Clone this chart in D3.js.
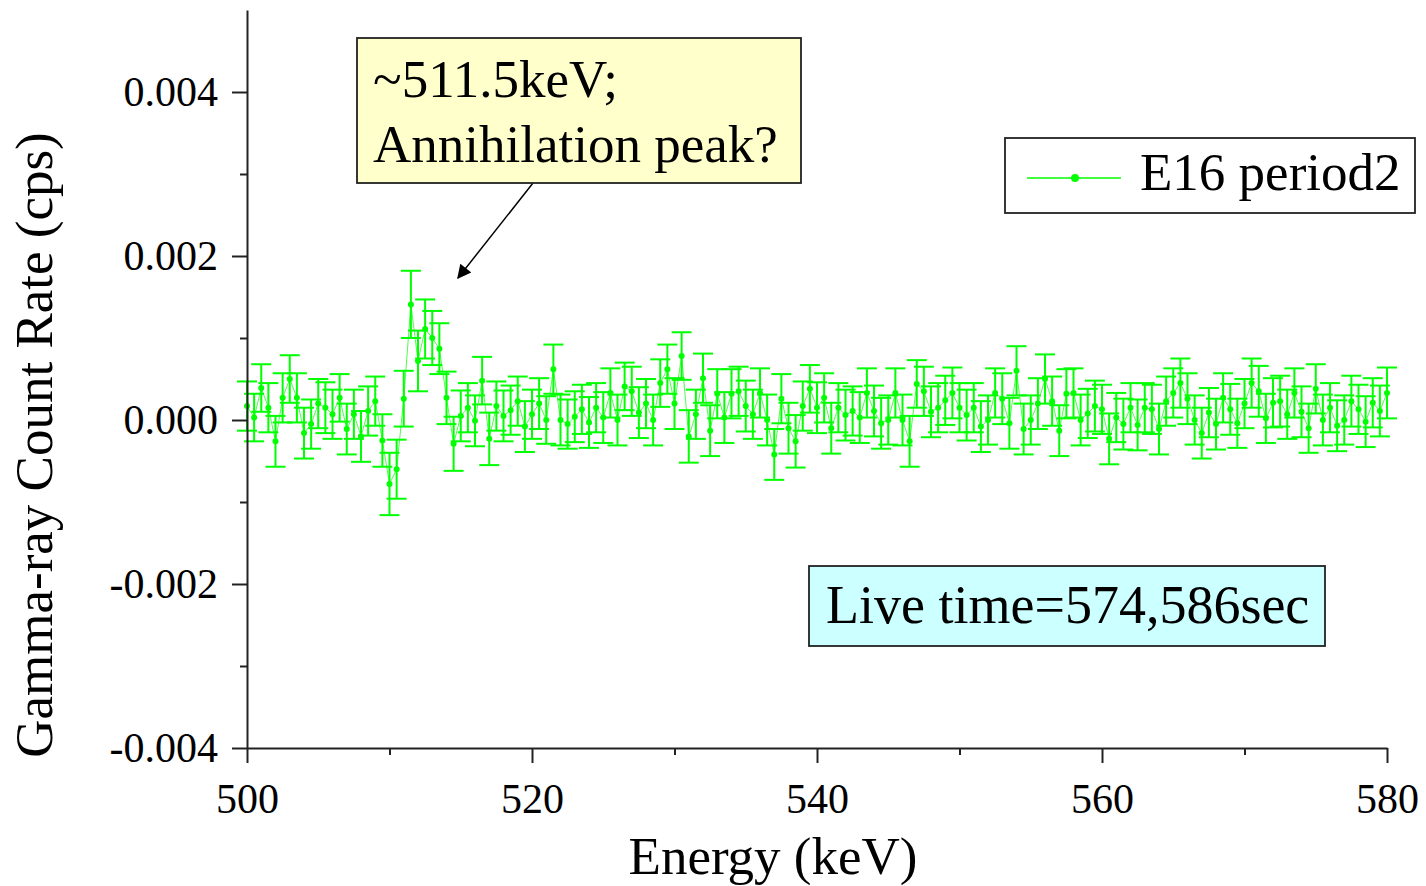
<!DOCTYPE html>
<html>
<head>
<meta charset="utf-8">
<script src="https://cdn.jsdelivr.net/npm/d3@7"></script>
<style>
  body { margin: 0; background: #fff; }
  svg { display: block; }
</style>
</head>
<body>
<div id="chart"></div>
<script>
// spectrum bins: 0.5 keV wide, starting at 500 keV
const binStart = 500;
const binWidth = 0.5;

// count rate (cps), one per bin
const rate = [
  0.00017, 0.00003, 0.00039, 0.00015, -0.00026, 0.00027, 0.00050, 0.00027, -0.00016, -0.00005,
  0.00020, 0.00015, 0.00007, 0.00027, -0.00011, 0.00007, -0.00020, 0.00011, 0.00023, -0.00025,
  -0.00078, -0.00060, 0.00026, 0.00141, 0.00072, 0.00111, 0.00100, 0.00087, 0.00027, -0.00029,
  0.00005, 0.00015, -0.00001, 0.00048, -0.00023, 0.00017, 0.00005, 0.00012, 0.00023, -0.00008,
  0.00007, 0.00020, 0.00000, 0.00062, 0.00000, -0.00005, 0.00004, 0.00013, -0.00003, 0.00015,
  0.00003, 0.00033, 0.00000, 0.00041, 0.00035, 0.00009, 0.00020, 0.00000, 0.00045, 0.00062,
  0.00020, 0.00078, -0.00020, 0.00007, 0.00051, -0.00013, 0.00032, 0.00003, 0.00032, 0.00035,
  0.00017, 0.00007, 0.00033, 0.00000, -0.00042, 0.00026, -0.00010, -0.00026, 0.00017, 0.00038,
  0.00015, 0.00027, -0.00010, 0.00015, 0.00006, 0.00011, 0.00003, 0.00033, 0.00011, -0.00004,
  0.00000, 0.00033, 0.00000, -0.00026, 0.00044, 0.00035, 0.00010, 0.00015, 0.00024, 0.00033,
  0.00015, 0.00006, 0.00015, -0.00008, 0.00000, 0.00033, 0.00026, -0.00004, 0.00060, -0.00011,
  0.00000, 0.00020, 0.00050, 0.00023, -0.00013, 0.00032, 0.00033, 0.00000, 0.00008, 0.00017,
  0.00013, -0.00023, 0.00003, -0.00005, 0.00015, -0.00006, 0.00015, 0.00013, -0.00011, 0.00023,
  0.00033, 0.00045, 0.00026, 0.00000, -0.00016, 0.00009, -0.00005, 0.00027, 0.00013, -0.00004,
  0.00020, 0.00045, 0.00035, 0.00002, 0.00021, 0.00023, 0.00007, 0.00033, 0.00010, -0.00010,
  0.00038, 0.00000, 0.00015, -0.00007, 0.00000, 0.00023, 0.00013, -0.00002, 0.00021, 0.00011,
  0.00033
];

// 1 sigma error of each bin (cps)
const rateErr = [
  0.00030, 0.00029, 0.00029, 0.00030, 0.00031, 0.00030, 0.00029, 0.00030, 0.00031, 0.00030,
  0.00030, 0.00031, 0.00030, 0.00029, 0.00031, 0.00030, 0.00031, 0.00030, 0.00030, 0.00032,
  0.00038, 0.00036, 0.00034, 0.00041, 0.00037, 0.00036, 0.00033, 0.00031, 0.00032, 0.00033,
  0.00031, 0.00030, 0.00031, 0.00029, 0.00032, 0.00030, 0.00031, 0.00030, 0.00030, 0.00031,
  0.00030, 0.00031, 0.00029, 0.00030, 0.00031, 0.00030, 0.00031, 0.00030, 0.00031, 0.00030,
  0.00031, 0.00030, 0.00031, 0.00029, 0.00030, 0.00031, 0.00030, 0.00031, 0.00029, 0.00030,
  0.00031, 0.00029, 0.00032, 0.00030, 0.00030, 0.00031, 0.00030, 0.00031, 0.00030, 0.00030,
  0.00031, 0.00030, 0.00030, 0.00031, 0.00031, 0.00030, 0.00031, 0.00032, 0.00030, 0.00029,
  0.00031, 0.00030, 0.00031, 0.00030, 0.00031, 0.00030, 0.00031, 0.00030, 0.00031, 0.00031,
  0.00030, 0.00030, 0.00031, 0.00031, 0.00029, 0.00030, 0.00031, 0.00030, 0.00030, 0.00031,
  0.00030, 0.00031, 0.00030, 0.00031, 0.00030, 0.00030, 0.00031, 0.00031, 0.00030, 0.00031,
  0.00030, 0.00031, 0.00030, 0.00030, 0.00031, 0.00030, 0.00030, 0.00031, 0.00030, 0.00031,
  0.00030, 0.00031, 0.00030, 0.00031, 0.00030, 0.00031, 0.00030, 0.00030, 0.00031, 0.00030,
  0.00030, 0.00030, 0.00031, 0.00030, 0.00031, 0.00030, 0.00031, 0.00030, 0.00031, 0.00030,
  0.00030, 0.00030, 0.00031, 0.00030, 0.00030, 0.00031, 0.00030, 0.00030, 0.00031, 0.00030,
  0.00030, 0.00031, 0.00030, 0.00031, 0.00030, 0.00031, 0.00030, 0.00031, 0.00030, 0.00031,
  0.00031
];

const xMajorTicks = [500, 520, 540, 560, 580];
const xMinorTicks = [510, 530, 550, 570];
const yMajorTicks = [-0.004, -0.002, 0, 0.002, 0.004];
const yMinorTicks = [-0.003, -0.001, 0.001, 0.003];

const seriesName = "E16 period2";
const calloutLines = ["~511.5keV;", "Annihilation peak?"];
const liveTimeText = "Live time=574,586sec";

const width = 1426;
const height = 886;
const green = "#00ff00";
const font = "'Liberation Serif', 'Times New Roman', serif";

const data = rate.map((v, i) => ({
    energy: binStart + i * binWidth,
    value: v,
    err: rateErr[i]
}));

const svg = d3.select("#chart")
              .append("svg")
              .attr("width", width)
              .attr("height", height)
              .style("font-family", font);

const x = d3.scaleLinear()
            .domain([500, 580])
            .range([247, 1387]);

const y = d3.scaleLinear()
            .domain([-0.004, 0.005])
            .range([748, 10]);

// error bars first, line and dots on top
const bars = svg.append("g")
                .attr("stroke", green)
                .attr("stroke-width", 2)
                .attr("fill", "none");

data.forEach(d => {
    const cx = x(d.energy);
    const top = y(d.value + d.err);
    const bot = y(d.value - d.err);
    bars.append("line").attr("x1", cx).attr("x2", cx).attr("y1", top).attr("y2", bot);
    bars.append("line").attr("x1", cx - 10).attr("x2", cx + 10).attr("y1", top).attr("y2", top);
    bars.append("line").attr("x1", cx - 10).attr("x2", cx + 10).attr("y1", bot).attr("y2", bot);
});

const line = d3.line()
               .x(d => x(d.energy))
               .y(d => y(d.value));

svg.append("path")
   .datum(data)
   .attr("d", line)
   .attr("fill", "none")
   .attr("stroke", green)
   .attr("stroke-opacity", 0.7)
   .attr("stroke-width", 1);

svg.append("g")
   .selectAll("circle")
   .data(data)
   .join("circle")
   .attr("cx", d => x(d.energy))
   .attr("cy", d => y(d.value))
   .attr("r", 3)
   .attr("fill", green);

// axes
const axisColor = "#222";
const fmt = d3.format(".3f");

const yAxis = svg.append("g")
                 .attr("transform", "translate(247,0)")
                 .call(d3.axisLeft(y)
                         .tickValues(yMajorTicks)
                         .tickSize(15)
                         .tickSizeOuter(0)
                         .tickPadding(14)
                         .tickFormat(d => fmt(d).replace("\u2212", "-")));

yAxis.selectAll("text")
     .style("font-size", "42px")
     .style("font-family", font)
     .attr("fill", "#000");

svg.append("g")
   .attr("transform", "translate(247,0)")
   .call(d3.axisLeft(y).tickValues(yMinorTicks).tickSize(7).tickFormat(""))
   .call(g => g.select(".domain").remove());

const xAxis = svg.append("g")
                 .attr("transform", "translate(0,748)")
                 .call(d3.axisBottom(x)
                         .tickValues(xMajorTicks)
                         .tickSize(15)
                         .tickSizeOuter(0)
                         .tickPadding(20));

xAxis.selectAll("text")
     .style("font-size", "42px")
     .style("font-family", font)
     .attr("fill", "#000");

svg.append("g")
   .attr("transform", "translate(0,748)")
   .call(d3.axisBottom(x).tickValues(xMinorTicks).tickSize(7).tickFormat(""))
   .call(g => g.select(".domain").remove());

svg.selectAll(".domain, .tick line")
   .attr("stroke", axisColor)
   .attr("stroke-width", 2);

// axis titles
svg.append("text")
   .attr("x", 773)
   .attr("y", 874)
   .attr("text-anchor", "middle")
   .style("font-size", "53px")
   .text("Energy (keV)");

svg.append("text")
   .attr("transform", "translate(52,445) rotate(-90)")
   .attr("text-anchor", "middle")
   .style("font-size", "53px")
   .text("Gamma-ray Count Rate (cps)");

// callout box with arrow
svg.append("defs")
   .append("marker")
   .attr("id", "arrowhead")
   .attr("viewBox", "0 0 10 10")
   .attr("refX", 9)
   .attr("refY", 5)
   .attr("markerWidth", 20)
   .attr("markerHeight", 14)
   .attr("markerUnits", "userSpaceOnUse")
   .attr("orient", "auto")
   .append("path")
   .attr("d", "M0,0 L10,5 L0,10 Z")
   .attr("fill", "#000");

svg.append("line")
   .attr("x1", 533)
   .attr("y1", 183)
   .attr("x2", 458)
   .attr("y2", 278)
   .attr("stroke", "#000")
   .attr("stroke-width", 1.5)
   .attr("marker-end", "url(#arrowhead)");

svg.append("rect")
   .attr("x", 357)
   .attr("y", 38)
   .attr("width", 444)
   .attr("height", 145)
   .attr("fill", "#ffffcc")
   .attr("stroke", "#222")
   .attr("stroke-width", 1.8);

calloutLines.forEach((t, i) => {
    svg.append("text")
       .attr("x", 373)
       .attr("y", 97 + i * 65)
       .style("font-size", "53px")
       .text(t);
});

// legend
svg.append("rect")
   .attr("x", 1005)
   .attr("y", 138)
   .attr("width", 410)
   .attr("height", 75)
   .attr("fill", "#fff")
   .attr("stroke", "#222")
   .attr("stroke-width", 1.8);

svg.append("line")
   .attr("x1", 1027)
   .attr("x2", 1121)
   .attr("y1", 178)
   .attr("y2", 178)
   .attr("stroke", green)
   .attr("stroke-width", 1.5);

svg.append("circle")
   .attr("cx", 1075)
   .attr("cy", 178)
   .attr("r", 4)
   .attr("fill", green);

svg.append("text")
   .attr("x", 1140)
   .attr("y", 190)
   .style("font-size", "53px")
   .text(seriesName);

// live time note
svg.append("rect")
   .attr("x", 809)
   .attr("y", 566)
   .attr("width", 516)
   .attr("height", 80)
   .attr("fill", "#ccffff")
   .attr("stroke", "#222")
   .attr("stroke-width", 1.8);

svg.append("text")
   .attr("x", 826)
   .attr("y", 623)
   .style("font-size", "54px")
   .text(liveTimeText);
</script>
</body>
</html>
